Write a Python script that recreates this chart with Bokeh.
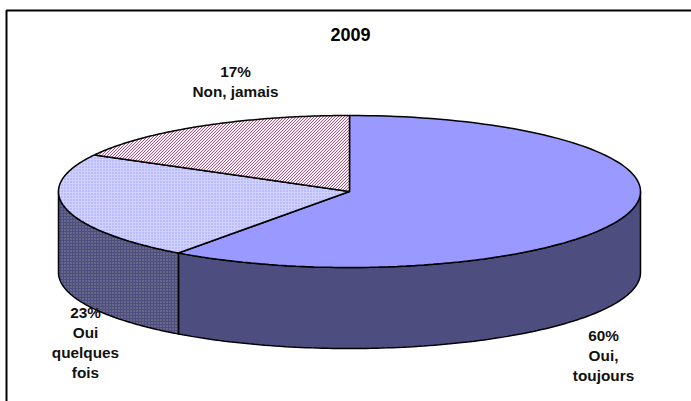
import numpy as np
from bokeh.core.properties import value
from bokeh.embed import file_html
from bokeh.models import Range1d
from bokeh.plotting import figure
from bokeh.resources import INLINE

# Share of answers per slice, clockwise from twelve o'clock
labels = ["Oui, toujours", "Oui quelques fois", "Non, jamais"]
shares = [60, 23, 17]
title = "2009"

top_fills = ["#9999ff", "#d2d2ff", "#fff4f8"]
top_hatch = [None, "dot", None]
top_hatch_cols = [None, "#9999ff", None]
side_fills = ["#4d4d80", "#4d4d80", "#4d3340"]
side_hatch = [None, "dot", None]
side_hatch_cols = [None, "#8f8f99", None]
stripe_color = "#a33d70"

W, H = 691, 401
CX, CY, RX, RY, DEPTH = 349, H - 191, 291, 76, 81

p = figure(width=W, height=H, output_backend="svg", toolbar_location=None,
           x_range=Range1d(0, W), y_range=Range1d(0, H),
           min_border=0, outline_line_color=None)
p.axis.visible = False
p.grid.visible = False
p.background_fill_color = "white"
p.border_fill_color = "white"

# Chart frame: top and left rules
p.line([6, 6, 691], [0, H - 10, H - 10], line_color="black", line_width=2)


def rim(a0, a1, drop=0.0, n=120):
    t = np.radians(np.linspace(a0, a1, n))
    return CX + RX * np.sin(t), CY + RY * np.cos(t) - drop


def hatch_args(pattern, color):
    if not pattern:
        return {}
    return dict(hatch_pattern=pattern, hatch_color=color,
                hatch_scale=3, hatch_weight=1)


def stripes(a0, a1, pitch=3.0):
    """Down-right diagonals clipped to the top-face slice between two angles."""
    xs, ys = [], []
    for c in np.arange(-800, 800, pitch):
        sx = np.arange(CX - RX, CX + RX, 0.25)
        sy = c + sx
        dx, dy = (sx - CX) / RX, (sy - CY) / RY
        ang = np.degrees(np.arctan2(dx, dy)) % 360
        keep = (dx ** 2 + dy ** 2 <= 1) & (ang >= a0) & (ang <= a1)
        if keep.any():
            xs.append(sx[keep][[0, -1]])
            ys.append(sy[keep][[0, -1]])
    return xs, ys


edges = np.cumsum([0] + shares) * 3.6

# Visible wall of the disc: the front half, from 90 to 270 degrees
for i in range(len(shares)):
    a0, a1 = max(edges[i], 90), min(edges[i + 1], 270)
    if a1 <= a0:
        continue
    x, y = rim(a0, a1)
    xb, yb = rim(a1, a0, DEPTH)
    p.patch(np.r_[x, xb], np.r_[y, yb], fill_color=side_fills[i],
            line_color="black", line_width=1.5,
            **hatch_args(side_hatch[i], side_hatch_cols[i]))

# Top face; the last slice is striped, then outlined over its stripes
for i in range(len(shares)):
    x, y = rim(edges[i], edges[i + 1])
    px, py = np.r_[CX, x], np.r_[CY, y]
    p.patch(px, py, fill_color=top_fills[i], line_color=None,
            **hatch_args(top_hatch[i], top_hatch_cols[i]))
    if i == 2:
        sx, sy = stripes(edges[i], edges[i + 1])
        p.multi_line(sx, sy, line_color=stripe_color, line_width=0.9)
    p.patch(px, py, fill_color=None, line_color="black", line_width=1.5)

# Texts
FONT = value("Liberation Sans")
p.text([350], [H - 34], text=[title], text_font=FONT,
       text_font_size="13.5pt", text_font_style="bold",
       text_align="center", text_baseline="middle", text_color="black")

blocks = [(603, [335, 355, 375], ["60%", "Oui,", "toujours"]),
          (85, [312, 332, 352, 372], ["23%", "Oui", "quelques", "fois"]),
          (235, [71, 91], ["17%", "Non, jamais"])]
for bx, ys, lines in blocks:
    p.text([bx] * len(lines), [H - y for y in ys], text=lines,
           text_font=FONT, text_font_size="11.5pt",
           text_font_style="bold", text_align="center",
           text_baseline="middle", text_color="#111111")

open("out.html", "w").write(file_html(p, INLINE))
